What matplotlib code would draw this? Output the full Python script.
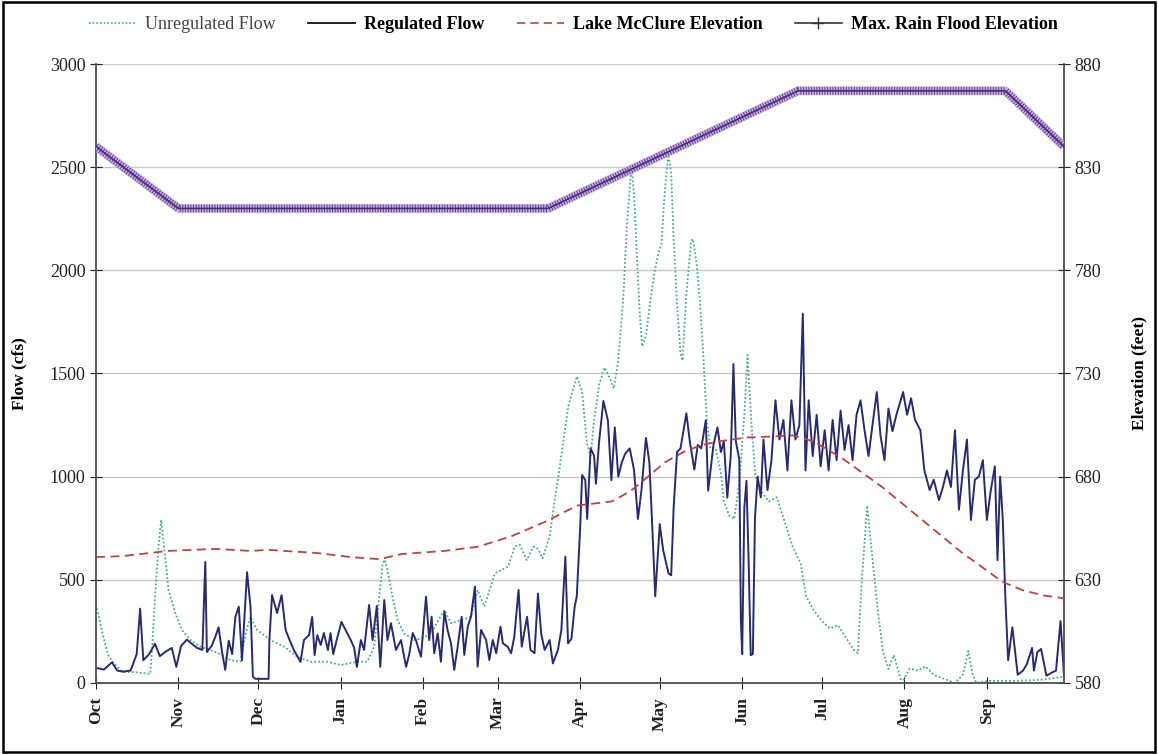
import matplotlib
matplotlib.use("Agg")
import matplotlib.pyplot as plt
from matplotlib.lines import Line2D
from matplotlib.patches import Rectangle

# water year, x = day number counted from 1 October
months = ['Oct', 'Nov', 'Dec', 'Jan', 'Feb', 'Mar', 'Apr', 'May', 'Jun', 'Jul', 'Aug', 'Sep']
month_start = [0, 31, 61, 92, 123, 151, 182, 212, 243, 273, 304, 335]

reg_days = [0, 3, 6, 8, 10, 13, 15.3, 16.6, 17.8, 20, 22.2, 24, 26, 28.5, 30.2, 32, 34.2, 36, 38, 40,
            41.1, 41.7, 43.5, 44.9, 46.1, 47.4, 48.6, 49.9, 51.2, 52.4, 53.7, 54.9, 56.8, 58.1, 59, 60,
            64.9, 65.2, 66.2, 68.1, 69.8, 71.3, 72.8, 74.4, 76.9, 78.2, 80.1, 81.3, 82.2, 83.2, 84.5,
            85.7, 87.2, 88.2, 89.2, 90.5, 92.3, 93.9, 95.8, 97.1, 98.1, 99.6, 100.8, 102.7, 104, 105.6,
            106.9, 108.4, 109.6, 110.9, 112.8, 114.7, 116.6, 117.8, 119.1, 120.3, 122.2, 124.1, 125.3,
            126.2, 127.2, 128.5, 129.7, 131, 132.2, 133.5, 134.7, 136, 137.5, 138.5, 139.8, 141, 142.5,
            143.5, 144.8, 146.7, 147.9, 149.2, 150.5, 152.1, 153, 154.8, 156.1, 157.3, 158.9, 160.1,
            162.1, 163.4, 164.9, 166.2, 167.4, 168.7, 170.6, 171.8, 173.7, 175, 176.5, 177.5, 178.8,
            180, 180.8, 182.1, 182.8, 184, 184.7, 186, 187.3, 188, 189.2, 190.8, 192.5, 193.8, 195.1,
            196.4, 197.7, 199, 200.7, 202.3, 203.8, 205.1, 206.8, 208.1, 209.4, 210.3, 212, 213.3,
            215.3, 216.3, 217.2, 218.5, 219.8, 222, 223.3, 225, 226.3, 227.6, 229.3, 230.2, 232.2,
            233.7, 235, 236.1, 237.4, 238.7, 239.7, 240.6, 241.9, 242.5, 243, 243.8, 244.6, 245.4,
            246.2, 247, 247.8, 248.8, 250, 251, 252.5, 254, 255.5, 257, 258.5, 260, 261.5, 263, 264.5,
            265.8, 266.8, 268, 269.5, 271, 272.5, 274, 275.5, 277, 278.5, 280, 281.5, 283, 284.5, 286,
            287.5, 289, 290.5, 292, 293.6, 295, 296.5, 298, 299.5, 301, 303.5, 305, 306.5, 308, 310,
            311.5, 313.5, 315, 317, 318.5, 320, 321.5, 323, 324.5, 326, 327.5, 329, 330.5, 332, 333.5,
            335, 336.5, 338, 339, 340, 341, 342, 343, 344.6, 346.6, 348.6, 350, 352, 352.7, 354, 355.4,
            357.4, 359.4, 361, 362.7, 364]
reg_flow = [73, 65, 100, 60, 55, 60, 140, 360, 110, 140, 190, 130, 150, 170, 78, 180, 210, 190, 170, 160,
            586, 150, 180, 225, 270, 150, 63, 205, 140, 320, 370, 110, 537, 370, 30, 20,
            20, 208, 426, 339, 426, 257, 208, 160, 102, 208, 232, 320, 135, 232, 184,
            242, 160, 242, 140, 208, 296, 256, 208, 170, 78, 208, 160, 378, 208, 373,
            78, 402, 208, 290, 160, 208, 78, 140, 242, 208, 127, 418, 208,
            321, 144, 240, 103, 346, 257, 192, 63, 176, 321, 136, 273, 321, 467,
            79, 257, 208, 111, 208, 144, 273, 192, 176, 144, 225, 451, 176,
            321, 160, 144, 434, 240, 160, 208, 95, 160, 257, 612, 192, 215,
            370, 420, 761, 1008, 983, 795, 1137, 1102, 966, 1171, 1367, 1273, 983, 1239,
            1000, 1068, 1111, 1137, 1034, 795, 932, 1188, 1068, 693, 420, 770, 642,
            531, 522, 846, 1119, 1137, 1307, 1171, 1034, 1154, 1137, 1273, 932, 1154,
            1239, 1119, 1171, 898, 1102, 1546, 1171, 1085, 300, 140, 850, 980, 600,
            135, 140, 800, 1000, 900, 1180, 935, 1080, 1370, 1180, 1275, 1030, 1370, 1180, 1250,
            1790, 1030, 1370, 1100, 1300, 1050, 1225, 1030, 1275, 1080, 1320, 1130, 1250, 1080, 1300,
            1370, 1225, 1100, 1250, 1410, 1200, 1080, 1330, 1220, 1300, 1410, 1300, 1380, 1275, 1225,
            1030, 935, 985, 887, 950, 1030, 950, 1225, 840, 1030, 1180, 790, 985, 1000, 1080,
            790, 935, 1050, 595, 1000, 790, 400, 110, 270, 40, 60, 90, 170, 60, 150, 165,
            35, 50, 60, 300, 40]

unreg_days = [0, 2.8, 4.7, 7.9, 10.3, 14.1, 20.4, 21, 22.2, 23.5, 24.5, 25.6, 27.3, 29.8, 32.3, 35.5,
              39.2, 43, 46.1, 50.5, 54.3, 56.5, 58.1, 60.6, 65.6, 70.7, 75.7, 80.8, 87, 92, 98.3, 102,
              104.6, 106.5, 107.8, 108.6, 109.6, 111.5, 113.4, 115.9, 119.7, 122.3, 126, 131, 133.5,
              137.3, 141, 143.5, 146, 148, 150, 152.5, 155, 157.5, 159.4, 162, 164.5, 166.2, 167.9,
              170.6, 172.5, 173.7, 175, 177.6, 180.8, 182.8, 184.7, 186, 187.3, 189.2, 191.2, 193.2,
              194.7, 196.4, 198.3, 199.6, 200.9, 201.5, 202.5, 203.5, 204.5, 205.4, 206.8, 208.5, 210,
              211.7, 212.6, 213.9, 215.2, 216.3, 217.2, 218.5, 219.8, 220.6, 221.9, 223.8, 224.5,
              225.8, 227.1, 228.4, 229.7, 231, 233, 235, 236.1, 238.1, 240, 241.9, 243.8, 245, 246.5,
              248, 250, 253, 256, 259, 262, 265, 267, 270, 273, 276, 279, 282, 285, 286.5, 288, 290,
              292, 294, 296, 298, 300, 303, 306, 309, 312, 315, 319, 323, 326, 328, 329.5, 331, 336,
              345, 355, 364]
unreg_flow = [380, 223, 130, 78, 53, 53, 44, 144, 418, 660, 790, 660, 450, 339, 257, 208,
              176, 160, 144, 111, 103, 250, 320, 257, 208, 176, 127, 103, 103, 87, 103, 103,
              176, 418, 580, 597, 547, 418, 305, 240, 208, 215, 240, 354, 290,
              305, 321, 451, 370, 451, 532, 548, 564, 661, 669, 596, 661, 650, 604,
              709, 887, 984, 1102, 1341, 1486, 1410, 1154, 1102, 1273, 1444, 1529, 1478,
              1427, 1563, 1870, 2212, 2433, 2502, 2331, 2041, 1785, 1631, 1683, 1853, 1990,
              2092, 2126, 2382, 2570, 2468, 2160, 1836, 1597, 1563, 1870, 2143, 2152,
              2041, 1853, 1580, 1273, 1137, 1137, 1017, 881, 812, 795, 966, 1300, 1590, 1250,
              1000, 930, 880, 900, 780, 660, 580, 420, 350, 300, 264, 280, 220, 160, 145, 500, 860,
              600, 350, 150, 68, 135, 0, 70, 60, 80, 40, 20, 0, 40, 155, 50, 0, 10,
              10, 15, 30]

lake_days = [0, 10, 27, 45, 58, 65, 83, 96, 106.5, 115, 131, 143.5, 156, 168.7, 181, 194, 201,
             207.6, 214, 221, 227, 233.5, 245, 255, 262, 270, 280.5, 295.6, 310.7, 325.8, 340.9,
             348.4, 356, 364]
lake_elev = [641, 641.5, 644, 645, 644, 644.5, 643, 641, 640, 642.5, 644, 646, 651, 658, 666, 668, 673,
             680, 687, 692, 695, 697, 699, 699.5, 700, 697, 689, 675, 659, 643, 629,
             625, 622.5, 621]

flood_days = [0, 31, 170, 264, 342, 364]
flood_elev = [840, 810, 810, 867, 867, 840]

serif = 'Liberation Serif'
plt.rcParams['font.family'] = serif

fig = plt.figure(figsize=(11.58, 7.54), dpi=100)
ax = fig.add_axes([0.0829, 0.0942, 0.8359, 0.8209])
ax2 = ax.twinx()

ax.plot(unreg_days, unreg_flow, color='#4fa98b', lw=1.3, ls=(0, (1, 1.2)), zorder=3)
ax.plot(reg_days, reg_flow, color='#2c2a6e', lw=1.4, zorder=4)

ax2.plot(lake_days, lake_elev, color='#b3484a', lw=1.3, ls=(0, (5, 3)), zorder=3)
# rule curve: light band, daily tick marks and a thin centre line
ax2.plot(flood_days, flood_elev, color='#c9b3e0', lw=6.5, solid_capstyle='butt', zorder=4)
ax2.plot(flood_days, flood_elev, color='#5e3a91', lw=5.5, dash_capstyle='butt',
         dashes=(0.13, 0.22), zorder=5)
ax2.plot(flood_days, flood_elev, color='#4a2d7a', lw=1.2, zorder=6)

ax.set_xlim(0, 364)
ax.set_ylim(0, 3000)
ax2.set_ylim(580, 880)
ax.set_yticks([0, 500, 1000, 1500, 2000, 2500, 3000])
ax2.set_yticks([580, 630, 680, 730, 780, 830, 880])
ax.set_xticks(month_start)
ax.set_xticklabels(months, rotation=90, fontsize=12.5, fontweight='bold')
ax.tick_params(axis='y', labelsize=13, direction='inout', length=8, colors='#222222')
ax.tick_params(axis='x', direction='inout', length=8, colors='#222222', pad=6)
ax2.tick_params(axis='y', labelsize=13, direction='inout', length=8, colors='#222222')
ax.yaxis.grid(True, color='#c8c8c8', lw=1)
ax.set_axisbelow(True)

for a in (ax, ax2):
    a.spines['top'].set_visible(False)
    for s in ('left', 'right', 'bottom'):
        a.spines[s].set_color('#555555')
        a.spines[s].set_linewidth(1.1)

ax.set_ylabel('Flow (cfs)', fontsize=12.5, fontweight='bold', labelpad=16)
ax2.set_ylabel('Elevation (feet)', fontsize=12.5, fontweight='bold', labelpad=22)

handles = [
    Line2D([], [], color='#4fa98b', lw=1.2, ls=(0, (1, 1.2))),
    Line2D([], [], color='#222222', lw=1.4),
    Line2D([], [], color='#b3484a', lw=1.2, ls=(0, (5, 3))),
    Line2D([], [], color='#333333', lw=1.2, marker='+', markersize=9),
]
labels = ['Unregulated Flow', 'Regulated Flow', 'Lake McClure Elevation', 'Max. Rain Flood Elevation']
leg = fig.legend(handles, labels, loc='upper center', bbox_to_anchor=(0.495, 1.0), ncol=4,
                 frameon=False, fontsize=13, handlelength=2.6, columnspacing=1.8, handletextpad=0.5)
for i, t in enumerate(leg.get_texts()):
    if i == 0:
        t.set_color('#444444')
    else:
        t.set_fontweight('bold')

fig.patches.append(Rectangle((0.003, 0.003), 0.994, 0.994, transform=fig.transFigure,
                             fill=False, edgecolor='black', lw=1.8))

fig.savefig('out.png', dpi=100)
